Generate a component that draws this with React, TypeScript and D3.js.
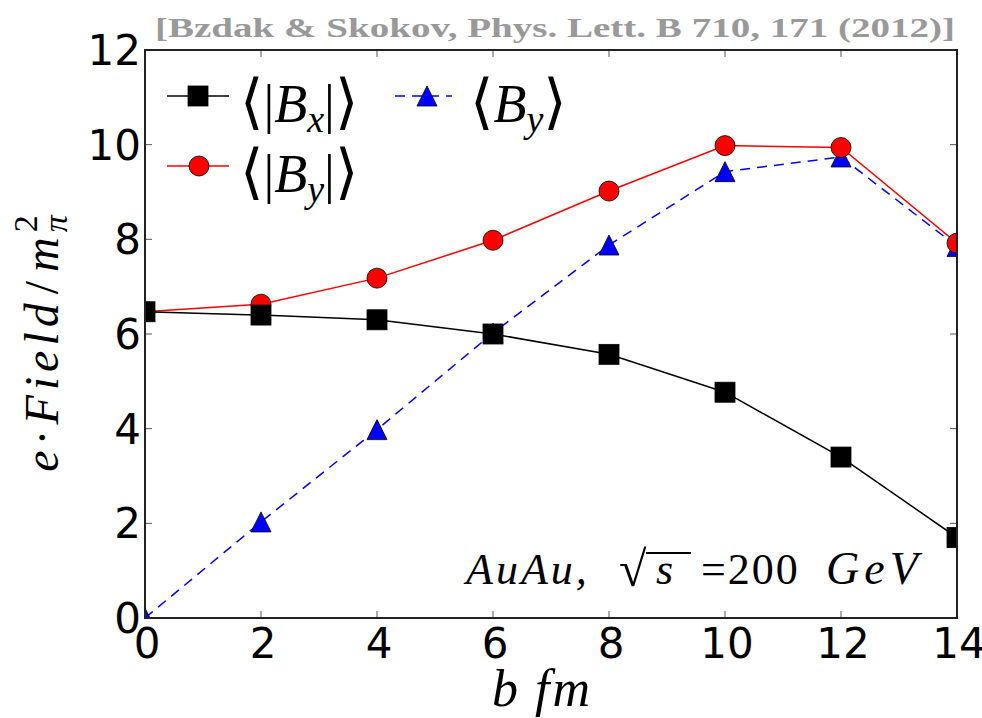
import React from "react";
import * as d3 from "d3";

const impactB = [0, 2, 4, 6, 8, 10, 12, 14];
const absBx = [6.47, 6.4, 6.3, 6.0, 5.57, 4.77, 3.4, 1.7];
const absBy = [6.47, 6.63, 7.18, 7.98, 9.02, 9.98, 9.94, 7.92];
const meanBy = [0, 2.03, 3.98, 6.02, 7.88, 9.43, 9.74, 7.85];
const xTicks = [0, 2, 4, 6, 8, 10, 12, 14];
const yTicks = [0, 2, 4, 6, 8, 10, 12];
const titleText = "[Bzdak & Skokov, Phys. Lett. B 710, 171 (2012)]";

const W = 982, H = 718;
const L = 145, R = 957, T = 50, B = 618;

const serif = "'Liberation Serif', 'DejaVu Serif', serif";
const sans = "'DejaVu Sans', sans-serif";
const bracketFont = "'DejaVu Sans', sans-serif";

export default function App() {
  const x = d3.scaleLinear().domain([0, 14]).range([L, R]);
  const y = d3.scaleLinear().domain([0, 12]).range([B, T]);
  const line = d3.line<[number, number]>().x(d => x(d[0])).y(d => y(d[1]));
  const pts = (vals: number[]) => impactB.map((b, i) => [b, vals[i]] as [number, number]);
  const sq = 20, rc = 10, tri = 10;
  const triPath = (cx: number, cy: number) =>
    `M${cx},${cy - tri}L${cx + tri},${cy + tri}L${cx - tri},${cy + tri}Z`;

  return (
    <svg width={W} height={H} style={{ display: "block", position: "absolute", left: 0, top: 0, background: "#fff" }}>
      <defs>
        <clipPath id="plotclip">
          <rect x={L} y={T} width={R - L} height={B - T} />
        </clipPath>
      </defs>
      <rect x={0} y={0} width={W} height={H} fill="#fff" />
      {/* title */}
      <text x={155} y={37} fontFamily={serif} fontWeight="bold" fontSize={28} fill="#999" textLength={800} lengthAdjust="spacingAndGlyphs">
        {titleText}
      </text>

      {/* data */}
      <g clipPath="url(#plotclip)">
        <path d={line(pts(meanBy)) || ""} fill="none" stroke="#0000ff" strokeWidth={1.5} strokeDasharray="10,7" />
        {pts(meanBy).map((p, i) => (
          <path key={"t" + i} d={triPath(x(p[0]), y(p[1]))} fill="#0000ff" stroke="#000" strokeWidth={0.8} />
        ))}
        <path d={line(pts(absBy)) || ""} fill="none" stroke="#ff0000" strokeWidth={1.5} />
        {pts(absBy).map((p, i) => (
          <circle key={"c" + i} cx={x(p[0])} cy={y(p[1])} r={rc} fill="#ff0000" stroke="#000" strokeWidth={0.8} />
        ))}
        <path d={line(pts(absBx)) || ""} fill="none" stroke="#000" strokeWidth={1.5} />
        {pts(absBx).map((p, i) => (
          <rect key={"s" + i} x={x(p[0]) - sq / 2} y={y(p[1]) - sq / 2} width={sq} height={sq} fill="#000" stroke="#000" strokeWidth={0.8} />
        ))}
      </g>

      {/* ticks */}
      <g stroke="#555" strokeWidth={1}>
        {xTicks.map(t => (
          <g key={"xt" + t}>
            <line x1={x(t)} x2={x(t)} y1={B} y2={B - 7} />
            <line x1={x(t)} x2={x(t)} y1={T} y2={T + 7} />
          </g>
        ))}
        {yTicks.map(t => (
          <g key={"yt" + t}>
            <line x1={L} x2={L + 7} y1={y(t)} y2={y(t)} />
            <line x1={R} x2={R - 7} y1={y(t)} y2={y(t)} />
          </g>
        ))}
      </g>
      <rect x={L} y={T} width={R - L} height={B - T} fill="none" stroke="#222" strokeWidth={2} />

      {/* tick labels */}
      {xTicks.map(t => (
        <text key={"xl" + t} x={x(t) + 2} y={658} textAnchor="middle" fontFamily={sans} fontSize={42} fill="#000">
          {t}
        </text>
      ))}
      {yTicks.map(t => (
        <text key={"yl" + t} x={141} y={y(t) + 15} textAnchor="end" fontFamily={sans} fontSize={42} fill="#000">
          {t}
        </text>
      ))}

      {/* axis labels */}
      <g transform="translate(58,341) rotate(-90)">
        <text x={0} y={0} textAnchor="middle" fontFamily={serif} fontSize={48} fill="#000" letterSpacing={5}>
          <tspan fontStyle="italic">e</tspan>
          <tspan>·</tspan>
          <tspan fontStyle="italic">Field</tspan>
          <tspan dx={4}>/</tspan>
          <tspan fontStyle="italic" dx={4}>m</tspan>
          <tspan fontStyle="italic" fontSize={34} dy={9}>π</tspan>
          <tspan fontSize={34} dy={-30} dx={-22}>2</tspan>
        </text>
      </g>
      <text x={492} y={706} fontFamily={serif} fontStyle="italic" fontSize={52} fill="#000">b</text>
      <text x={535} y={706} fontFamily={serif} fontStyle="italic" fontSize={52} fill="#000" letterSpacing={3}>fm</text>

      {/* annotation */}
      <text x={466} y={584} fontFamily={serif} fontStyle="italic" fontSize={44} fill="#000" letterSpacing={3}>AuAu,</text>
      <text x={619} y={586} fontFamily={serif} fontSize={50} fill="#000">√</text>
      <line x1={646} x2={691} y1={553} y2={553} stroke="#000" strokeWidth={1.8} />
      <text x={656} y={584} fontFamily={serif} fontStyle="italic" fontSize={44} fill="#000">s</text>
      <text x={701} y={584} fontFamily={serif} fontSize={44} fill="#000" letterSpacing={2}>=200</text>
      <text x={826} y={584} fontFamily={serif} fontStyle="italic" fontSize={46} fill="#000" letterSpacing={5}>GeV</text>

      {/* legend */}
      <line x1={167} x2={229} y1={96} y2={96} stroke="#000" strokeWidth={1.5} />
      <rect x={198 - sq / 2} y={96 - sq / 2} width={sq} height={sq} fill="#000" stroke="#000" strokeWidth={0.8} />
      <text x={240} y={122} fontFamily={serif} fontSize={54} fill="#000">
        <tspan fontFamily={bracketFont} fontSize={60} dy={0}>⟨</tspan>
        <tspan>|</tspan>
        <tspan fontStyle="italic">B</tspan>
        <tspan fontStyle="italic" fontSize={38} dy={10}>x</tspan>
        <tspan dy={-10}>|</tspan>
        <tspan fontFamily={bracketFont} fontSize={60}>⟩</tspan>
      </text>

      <line x1={395} x2={452} y1={96} y2={96} stroke="#0000ff" strokeWidth={1.5} strokeDasharray="10,7" />
      <path d={triPath(427, 96)} fill="#0000ff" stroke="#000" strokeWidth={0.8} />
      <text x={470} y={122} fontFamily={serif} fontSize={54} fill="#000">
        <tspan fontFamily={bracketFont} fontSize={60}>⟨</tspan>
        <tspan fontStyle="italic">B</tspan>
        <tspan fontStyle="italic" fontSize={38} dy={10}>y</tspan>
        <tspan fontFamily={bracketFont} fontSize={60} dy={-10}>⟩</tspan>
      </text>

      <line x1={167} x2={229} y1={166} y2={166} stroke="#ff0000" strokeWidth={1.5} />
      <circle cx={199} cy={166} r={rc} fill="#ff0000" stroke="#000" strokeWidth={0.8} />
      <text x={240} y={192} fontFamily={serif} fontSize={54} fill="#000">
        <tspan fontFamily={bracketFont} fontSize={60}>⟨</tspan>
        <tspan>|</tspan>
        <tspan fontStyle="italic">B</tspan>
        <tspan fontStyle="italic" fontSize={38} dy={10}>y</tspan>
        <tspan dy={-10}>|</tspan>
        <tspan fontFamily={bracketFont} fontSize={60}>⟩</tspan>
      </text>
    </svg>
  );
}
